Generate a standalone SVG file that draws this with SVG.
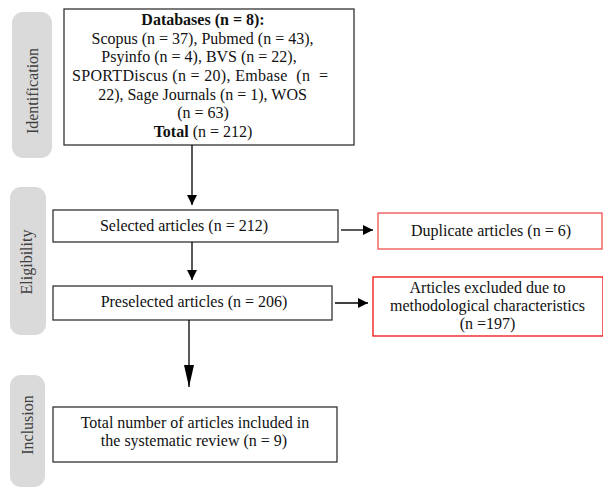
<svg xmlns="http://www.w3.org/2000/svg" width="603" height="488" viewBox="0 0 603 488">
<defs>
<marker id="ah" viewBox="0 0 10 10" refX="10" refY="5" markerWidth="10" markerHeight="10" markerUnits="userSpaceOnUse" orient="auto"><path d="M0,0 L10,5 L0,10 Z" fill="#000"/></marker>
<marker id="ahl" viewBox="0 0 22 10" refX="22" refY="5" markerWidth="22" markerHeight="10" markerUnits="userSpaceOnUse" orient="auto"><path d="M0,0 L22,5 L0,10 Z" fill="#000"/></marker>
</defs>
<style>
text{font-family:"Liberation Serif","Times New Roman",serif;font-size:16px;fill:#111}
.c{text-anchor:middle}
.b{font-weight:bold}
.box{fill:#fff;stroke:#333;stroke-width:1.3}
.red1{fill:#fff;stroke:#f05050;stroke-width:1.3}
.red2{fill:#fff;stroke:#ee1111;stroke-width:1.3}
.phase{fill:#dadada}
.pl{fill:#404040;text-anchor:middle}
.con{stroke:#000;stroke-width:1.3;fill:none}
</style>
<g id="phase-identification">
<rect class="phase" x="12" y="12" width="40" height="146" rx="11"/>
<text class="pl" transform="translate(38,91) rotate(-90)">Identification</text>
</g>
<g id="phase-eligibility">
<rect class="phase" x="10" y="187" width="36" height="148" rx="11"/>
<text class="pl" transform="translate(32,262) rotate(-90)">Eligibility</text>
</g>
<g id="phase-inclusion">
<rect class="phase" x="10" y="375" width="35" height="112" rx="11"/>
<text class="pl" transform="translate(33,425) rotate(-90)">Inclusion</text>
</g>
<g id="databases">
<rect class="box" x="64" y="9" width="290" height="136"/>
<text class="c b" x="203" y="25">Databases (n = 8):</text>
<text class="c" x="202.5" y="43.7">Scopus (n = 37), Pubmed (n = 43),</text>
<text class="c" x="199" y="62.3">Psyinfo (n = 4), BVS (n = 22),</text>
<text x="72" y="81" textLength="256" lengthAdjust="spacing" xml:space="preserve">SPORTDiscus (n = 20), Embase  (n  =</text>
<text class="c" x="202.5" y="99.7">22), Sage Journals (n = 1), WOS</text>
<text class="c" x="203" y="118.3">(n = 63)</text>
<text class="c" x="203" y="137"><tspan class="b">Total</tspan> (n = 212)</text>
</g>
<g id="selected">
<rect class="box" x="53" y="210" width="285" height="32"/>
<text class="c" x="184" y="230.5">Selected articles (n = 212)</text>
</g>
<g id="duplicate">
<rect class="red1" x="378" y="213" width="224" height="36"/>
<text class="c" x="491" y="235.5">Duplicate articles (n = 6)</text>
</g>
<g id="preselected">
<rect class="box" x="53" y="286" width="279" height="34"/>
<text class="c" x="194" y="306.5">Preselected articles (n = 206)</text>
</g>
<g id="excluded">
<rect class="red2" x="373" y="277" width="230" height="59"/>
<text class="c" x="487.5" y="293">Articles excluded due to</text>
<text class="c" x="487.5" y="311">methodological characteristics</text>
<text class="c" x="487.5" y="329">(n =197)</text>
</g>
<g id="included">
<rect class="box" x="53" y="407" width="284" height="55"/>
<text class="c" x="195" y="428">Total number of articles included in</text>
<text class="c" x="194" y="446">the systematic review (n = 9)</text>
</g>
<g id="connectors">
<line class="con" x1="192" y1="145" x2="192" y2="205" marker-end="url(#ah)"/>
<line class="con" x1="192" y1="242" x2="192" y2="280" marker-end="url(#ah)"/>
<line class="con" x1="189" y1="320" x2="189" y2="387" marker-end="url(#ahl)"/>
<line class="con" x1="341" y1="230" x2="373" y2="230" marker-end="url(#ah)"/>
<line class="con" x1="335" y1="303" x2="368" y2="303" marker-end="url(#ah)"/>
</g>
</svg>
